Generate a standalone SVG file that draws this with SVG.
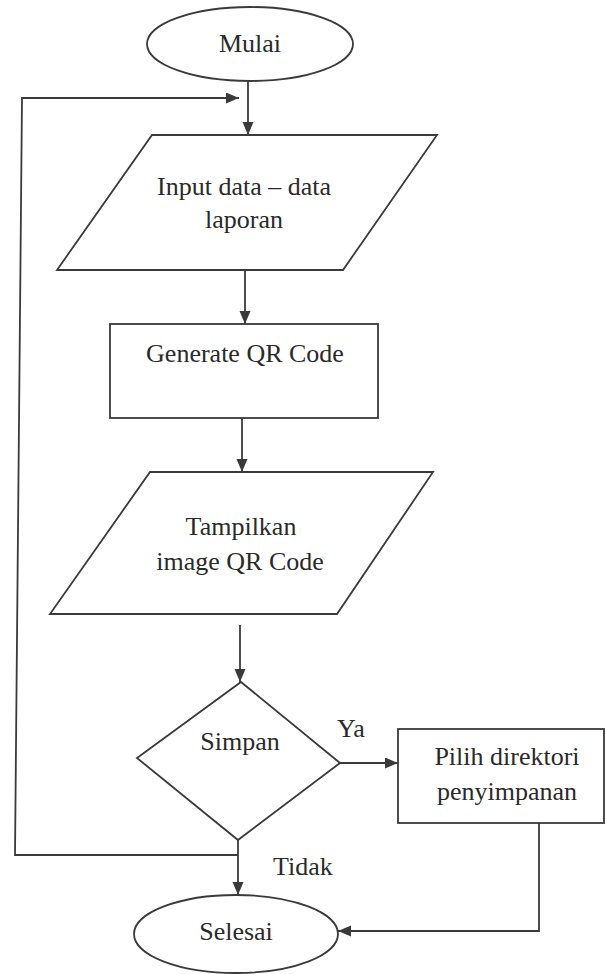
<svg xmlns="http://www.w3.org/2000/svg" width="606" height="974" viewBox="0 0 606 974">
<style>
.s{fill:#fff;stroke:#3a3a3a;stroke-width:1.8}
.c{fill:none;stroke:#3a3a3a;stroke-width:1.8}
text{font-family:"Liberation Serif","Times New Roman",serif;font-size:26px;fill:#2a2a2a}
.m{text-anchor:middle}
</style>
<defs>
<marker id="ah" markerUnits="userSpaceOnUse" markerWidth="14" markerHeight="12" refX="13" refY="5.5" orient="auto">
<path d="M0,0 L13,5.5 L0,11 z" fill="#3a3a3a"/>
</marker>
</defs>
<g id="connectors">
<path class="c" d="M248,80 L248,135" marker-end="url(#ah)"/>
<path class="c" d="M238,855 L15,855 L22,98 L239,98" marker-end="url(#ah)"/>
<path class="c" d="M245,270 L245,324" marker-end="url(#ah)"/>
<path class="c" d="M242,418 L242,472" marker-end="url(#ah)"/>
<path class="c" d="M240,625 L240,682" marker-end="url(#ah)"/>
<path class="c" d="M238,840 L238,895" marker-end="url(#ah)"/>
<path class="c" d="M340,763 L398,763" marker-end="url(#ah)"/>
<path class="c" d="M539,823 L539,931 L338,931" marker-end="url(#ah)"/>
<text x="337" y="737">Ya</text>
<text x="273" y="875">Tidak</text>
</g>
<g id="mulai">
<ellipse class="s" cx="250" cy="44" rx="103" ry="37"/>
<text class="m" x="250" y="52">Mulai</text>
</g>
<g id="input">
<polygon class="s" points="152,135 437,135 343,270 57,270"/>
<text class="m" x="244" y="195">Input data – data</text>
<text class="m" x="244" y="228">laporan</text>
</g>
<g id="generate">
<rect class="s" x="110" y="324" width="268" height="94"/>
<text class="m" x="245" y="362">Generate QR Code</text>
</g>
<g id="tampilkan">
<polygon class="s" points="150,472 433,472 337,614 50,614"/>
<text class="m" x="241" y="535">Tampilkan</text>
<text class="m" x="240" y="570">image QR Code</text>
</g>
<g id="simpan">
<polygon class="s" points="241,682 340,763 238,840 137,758"/>
<text class="m" x="240" y="750">Simpan</text>
</g>
<g id="pilih">
<rect class="s" x="398" y="729" width="206" height="94"/>
<text class="m" x="507" y="765">Pilih direktori</text>
<text class="m" x="507" y="800">penyimpanan</text>
</g>
<g id="selesai">
<ellipse class="s" cx="236" cy="934" rx="102" ry="39"/>
<text class="m" x="236" y="940">Selesai</text>
</g>
</svg>
